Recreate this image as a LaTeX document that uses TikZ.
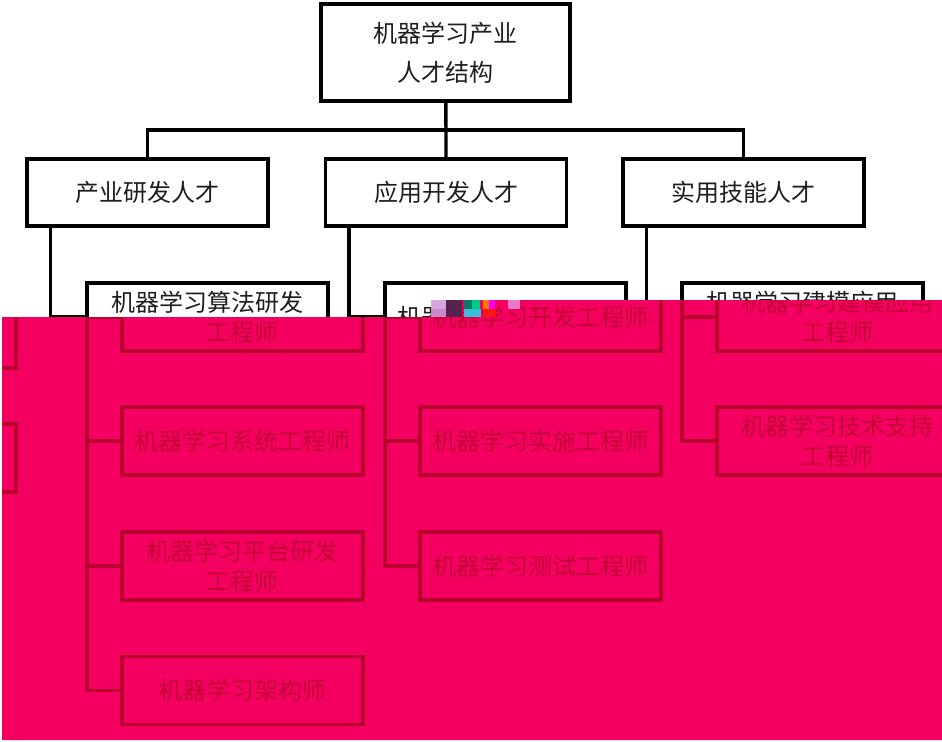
\documentclass[tikz,border=0pt]{standalone}
\usepackage{fontspec}
\newfontfamily\cjk{Noto Sans CJK SC}
\definecolor{inkgray}{RGB}{30,30,30}
\definecolor{glitchpink}{RGB}{243,0,96}
\definecolor{glitchred}{RGB}{186,0,44}
\definecolor{glitchtext}{RGB}{196,0,52}
\definecolor{gLav}{RGB}{215,165,225}
\definecolor{gPlum}{RGB}{200,140,200}
\definecolor{gPurple}{RGB}{85,35,75}
\definecolor{gTeal}{RGB}{0,125,105}
\definecolor{gGreen}{RGB}{0,205,130}
\definecolor{gCyan}{RGB}{60,190,215}
\definecolor{gOrange}{RGB}{255,120,0}
\definecolor{gMag}{RGB}{250,0,250}
\definecolor{gRed}{RGB}{255,20,20}
\definecolor{gRose}{RGB}{235,120,200}

\tikzset{every picture/.style={line width=0.75pt}}
\tikzset{
  rootbox/.style={draw, line width=2.4pt, minimum width=186.75pt, minimum height=72.75pt,
    align=center, inner sep=0pt, font=\cjk\fontsize{18pt}{22.5pt}\selectfont},
  groupbox/.style={draw, line width=2.4pt, minimum width=180.75pt, minimum height=50.25pt,
    align=center, inner sep=0pt, font=\cjk\fontsize{18pt}{22.5pt}\selectfont},
  jobbox/.style={draw, line width=2.4pt, minimum width=180.75pt, minimum height=51pt,
    align=center, inner sep=0pt, font=\cjk\fontsize{18pt}{22.5pt}\selectfont},
  link/.style={line width=2.6pt},
}

% the three job columns, #1 = prefix of the node names
\newcommand{\jobcolumns}[1]{%
  \coordinate (#1resdrop) at (52,226);
  \coordinate (#1appdrop) at (350,226);
  \coordinate (#1skldrop) at (647,226);
  % Text Node
  \node[jobbox] (#1res1) at (207.5,317) {机器学习算法研发\\工程师};
  % Text Node
  \node[jobbox] (#1res2) at (207.5,441) {机器学习系统工程师};
  % Text Node
  \node[jobbox] (#1res3) at (207.5,566) {机器学习平台研发\\工程师};
  % Text Node
  \node[jobbox] (#1res4) at (207.5,690.5) {机器学习架构师};
  % Text Node
  \node[jobbox] (#1app1) at (505.5,317) {机器学习开发工程师};
  % Text Node
  \node[jobbox] (#1app2) at (505.5,441) {机器学习实施工程师};
  % Text Node
  \node[jobbox] (#1app3) at (505.5,566) {机器学习测试工程师};
  % Text Node
  \node[jobbox] (#1skl1) at (802.5,317) {机器学习建模应用\\工程师};
  % Text Node
  \node[jobbox] (#1skl2) at (802.5,441) {机器学习技术支持\\工程师};
  %Straight Lines
  \draw[link] (#1resdrop) |- (#1res1.west);
  \draw[link] (#1resdrop) |- (#1res2.west);
  \draw[link] (#1resdrop) |- (#1res3.west);
  \draw[link] (#1resdrop) |- (#1res4.west);
  \draw[link] (#1appdrop) |- (#1app1.west);
  \draw[link] (#1appdrop) |- (#1app2.west);
  \draw[link] (#1appdrop) |- (#1app3.west);
  \draw[link] (#1skldrop) |- (#1skl1.west);
  \draw[link] (#1skldrop) |- (#1skl2.west);
}

\begin{document}
\begin{tikzpicture}[x=0.75pt,y=0.75pt,yscale=-1,xscale=1]
	\useasboundingbox (0,0) rectangle (942,742);

	% chart as printed (black part)
	\begin{scope}[color=black, text=inkgray]
	% Text Node
	\node[rootbox] (root) at (445.5,52.5) {机器学习产业\\[6.75pt]人才结构};
	% Text Node
	\node[groupbox] (res) at (147.5,192.5) {产业研发人才};
	% Text Node
	\node[groupbox] (app) at (446,192.5) {应用开发人才};
	% Text Node
	\node[groupbox] (skl) at (743.5,192.5) {实用技能人才};
	% Text Node
	\node[jobbox] (res1) at (207.5,317) {机器学习算法研发\\工程师};
	% Text Node
	\node[jobbox] (app1) at (505.5,317) {机器学习开发工程师};
	% Text Node
	\node[jobbox] (skl1) at (802.5,317) {机器学习建模应用\\工程师};

	%Straight Lines
	\coordinate (hub) at (446,130);
	\draw[link] (root) -- (hub) -- (app);
	\draw[link] (res.north) |- (hub) -| (skl.north);
	\draw[link] ([xshift=18.75pt]res.south west) |- (res1.west);
	\draw[link] ([xshift=18.75pt]app.south west) |- (app1.west);
	\draw[link] ([xshift=18.75pt]skl.south west) |- (skl1.west);
	\end{scope}

	%Shape: Polygon [id:glitch band]
	\fill[glitchpink] (2,317) -- (432,317) -- (432,300) -- (942,300) -- (942,740) -- (2,740) -- cycle;

	% shifted copy inside the band
	\begin{scope}
	\clip (2,317) -- (432,317) -- (432,300) -- (942,300) -- (942,740) -- (2,740) -- cycle;
	\begin{scope}[shift={(35,0)}, color=glitchred, text=glitchtext]
	\jobcolumns{s}
	\end{scope}
	% wrapped edge at the left
	\begin{scope}[shift={(-907,17)}, color=glitchred]
	\node[jobbox] (wskl1) at (802.5,317) {};
	\node[jobbox] (wskl2) at (802.5,441) {};
	\end{scope}
	\end{scope}

	%Shape: Rectangle
	\fill[gLav] (431,300) rectangle (446,309);
	\fill[gPlum] (431,309) rectangle (447,317);
	\fill[gPurple] (446,300) rectangle (462,317);
	\fill[gTeal] (464,300) rectangle (472,309);
	\fill[gGreen] (472,300) rectangle (480,309);
	\fill[gCyan] (464,309) rectangle (481,317);
	\fill[gOrange] (483,300) rectangle (489,309);
	\fill[gMag] (489,300) rectangle (495,309);
	\fill[gRed] (483,309) rectangle (496,317);
	\fill[gRose] (508,300) rectangle (520,309);

\end{tikzpicture}
\end{document}
